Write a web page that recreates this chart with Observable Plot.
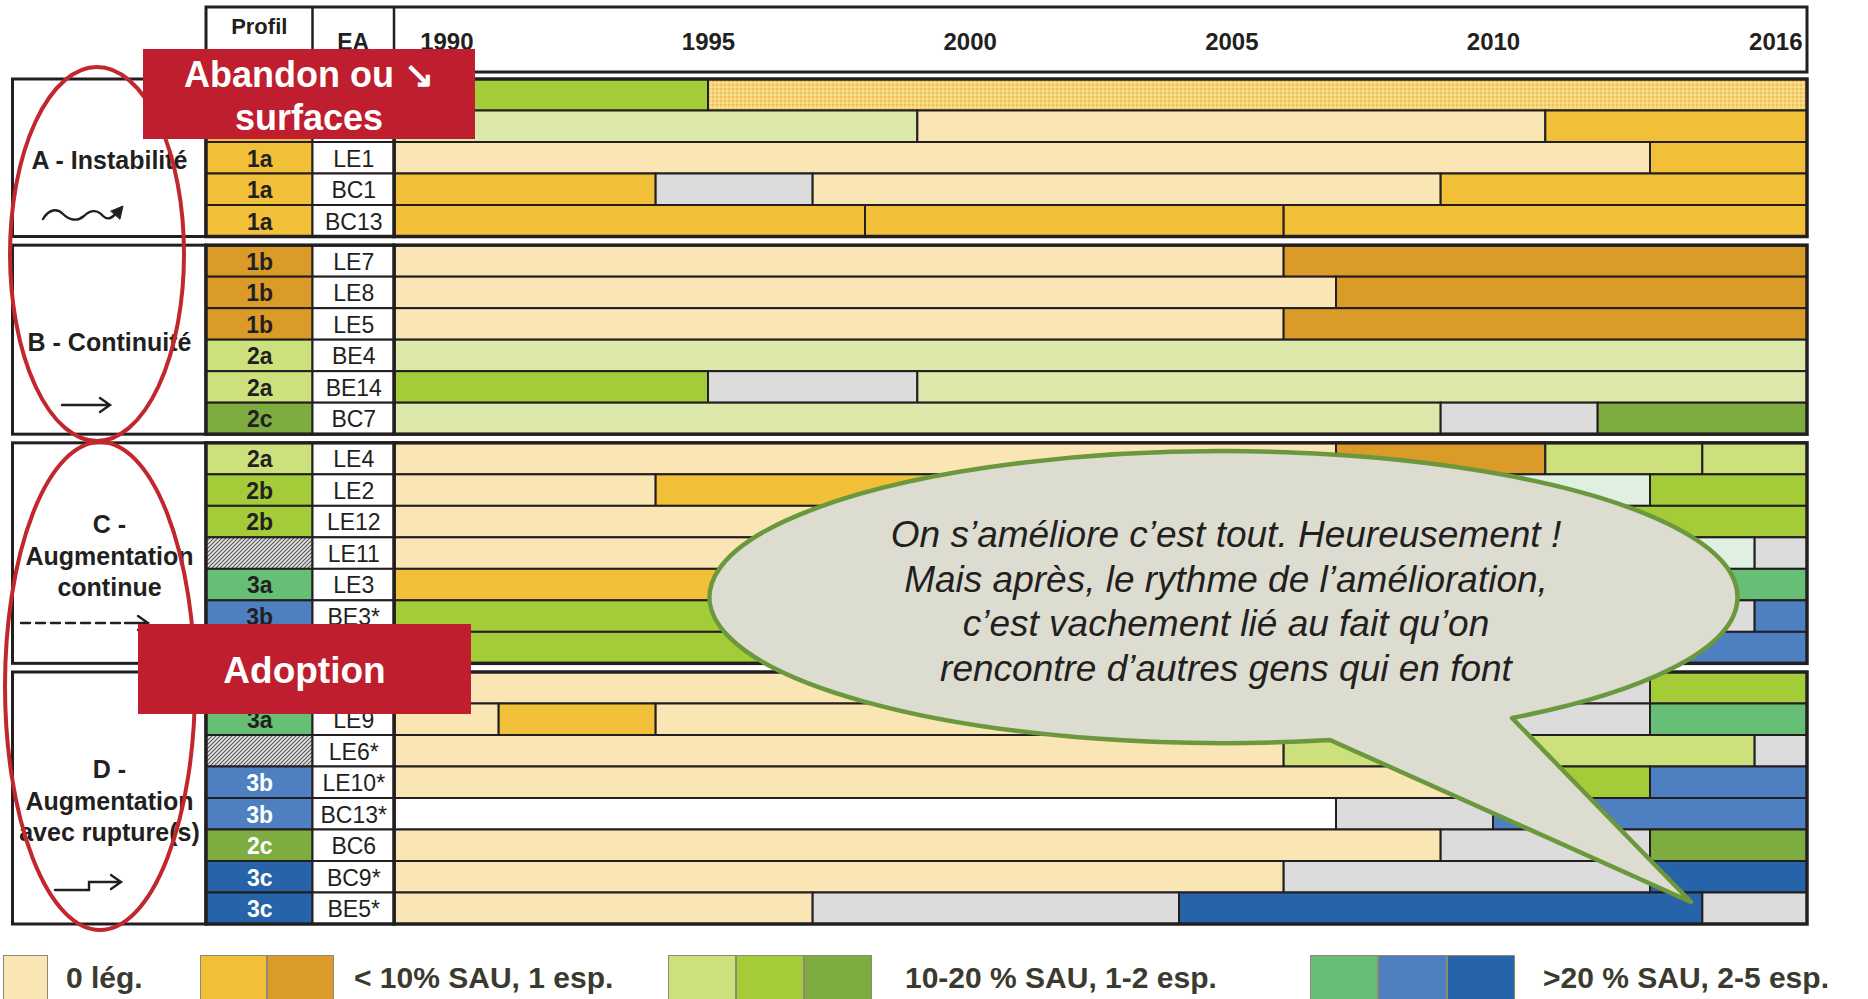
<!DOCTYPE html>
<html><head><meta charset="utf-8">
<script src="https://cdn.jsdelivr.net/npm/d3@7"></script>
<script src="https://cdn.jsdelivr.net/npm/@observablehq/plot@0.6"></script>
<style>
html,body{margin:0;padding:0;background:#fff;overflow:hidden;}
#root{position:relative;width:1868px;height:999px;font-family:"Liberation Sans",Arial,sans-serif;}
#root > svg{position:absolute;left:0;top:0;}
.sw{position:absolute;top:955px;height:50px;box-sizing:border-box;border:1px solid #8a8a76;}
.lt{position:absolute;top:958px;font:bold 30px "Liberation Sans",Arial,sans-serif;color:#3b3a2f;white-space:nowrap;line-height:40px;}
</style></head>
<body>
<svg width="0" height="0" style="position:absolute">
<defs>
<pattern id="pOrange" width="4" height="4" patternUnits="userSpaceOnUse">
<rect width="4" height="4" fill="#f7d57c"/>
<circle cx="1" cy="1" r="0.9" fill="#eeb636"/>
<circle cx="3" cy="3" r="0.8" fill="#fbe5ad"/>
</pattern>
<pattern id="pGray" width="4" height="4" patternUnits="userSpaceOnUse">
<rect width="4" height="4" fill="#e4e4e4"/>
<path d="M-1,1 l2,-2 M0,4 l4,-4 M3,5 l2,-2" stroke="#555" stroke-width="1.1"/>
</pattern>
</defs></svg>
<div id="root"></div>
<script>
// ---------------- DATA ----------------
const groupNames = ["A - Instabilité", "B - Continuité", "C -\nAugmentation\ncontinue", "D -\nAugmentation\navec rupture(s)"];
const groupSizes = [5, 6, 7, 8];
const rowProfil = ["1a","1a","1a","1a","1a",
                   "1b","1b","1b","2a","2a","2c",
                   "2a","2b","2b","hatch","3a","3b","3b",
                   "2b","3a","hatch","3b","3b","2c","3c","3c"];
// "" = label hidden under an annotation box in the source
const rowEA = ["","","LE1","BC1","BC13",
               "LE7","LE8","LE5","BE4","BE14","BC7",
               "LE4","LE2","LE12","LE11","LE3","BE3*","",
               "","LE9","LE6*","LE10*","BC13*","BC6","BC9*","BE5*"];
const rowBreaks = [
  [1989,1995,2016], [1989,1999,2011,2016], [1989,2013,2016], [1989,1994,1997,2009,2016], [1989,1998,2006,2016],
  [1989,2006,2016], [1989,2007,2016], [1989,2006,2016], [1989,2016], [1989,1995,1999,2016], [1989,2009,2012,2016],
  [1989,2007,2011,2014,2016], [1989,1994,2004,2013,2016], [1989,2008,2016], [1989,2008,2015,2016], [1989,2006,2016], [1989,2008,2015,2016], [1989,2009,2016],
  [1989,2009,2013,2016], [1989,1991,1994,2009,2013,2016], [1989,2006,2015,2016], [1989,2010,2013,2016], [1989,2007,2010,2016], [1989,2009,2013,2016], [1989,2006,2013,2016], [1989,1997,2004,2014,2016]
];
const rowStates = [
  ["2b","1a-"], ["2a-","0","1a"], ["0","1a"], ["1a","na","0","1a"], ["1a","1a","1a"],
  ["0","1b"], ["0","1b"], ["0","1b"], ["2a-"], ["2b","na","2a-"], ["2a-","na","2c"],
  ["0","1b","2a","2a"], ["0","1a","3a-","2b"], ["0","2b"], ["0","3a-","na"], ["1a","3a"], ["2b","na","3b"], ["2b","3b"],
  ["0","na","2b"], ["0","1a","0","na","3a"], ["0","2a","na"], ["0","2b","3b"], ["vide","na","3b"], ["0","na","2c"], ["0","na","3c"], ["0","na","3c","na"]
];
const years = [1990, 1995, 2000, 2005, 2010, 2016];
const categories = ["0","1a","1b","2a","2b","2c","3a","3b","3c","na","vide","2a-","3a-","1a-","hatch"];
const legendLabels = ["0 lég.", "< 10% SAU, 1 esp.", "10-20 % SAU, 1-2 esp.", ">20 % SAU, 2-5 esp."];
const legendCats = [["0"], ["1a","1b"], ["2a","2b","2c"], ["3a","3b","3c"]];
const headerProfil = "Profil";
const headerEA = "EA";
const boxAbandon = "Abandon ou ↘\nsurfaces";
const boxAdoption = "Adoption";
const bubbleLines = ["On s’améliore c’est tout. Heureusement !",
                     "Mais après, le rythme de l’amélioration,",
                     "c’est vachement lié au fait qu’on",
                     "rencontre d’autres gens qui en font"];

// ---------------- STYLE / LAYOUT ----------------
const catColors = ["#fae6b4","#f2bf38","#da9b28","#cce17c","#a3cc38","#7dac40","#66bf74","#4e80c1","#2763a8","#dcdcdc","#ffffff","#dde9aa","#dff0e2","url(#pOrange)","url(#pGray)"];
const INK = "#231f20";
const FONT = "Liberation Sans, Arial, sans-serif";
const W = 1868, H = 940;
const GAP = 0.275;
const COL = {label: [12.5, 206], profil: [206, 312.5], ea: [312.5, 394]};

const groupIndex = groupSizes.flatMap((n, g) => Array(n).fill(g));
const groupStarts = groupSizes.map((n, g) => d3.sum(groupSizes.slice(0, g)));
const rows = rowEA.map((ea, i) => ({i, ea, profil: rowProfil[i], g: groupIndex[i], top: i + GAP * groupIndex[i]}));
const groups = groupNames.map((name, g) => ({name, g, top: groupStarts[g] + GAP * g, bottom: groupStarts[g] + groupSizes[g] + GAP * g}));
const segments = rows.flatMap(r => rowStates[r.i].map((cat, k) => ({row: r.i, top: r.top, cat, start: rowBreaks[r.i][k], end: rowBreaks[r.i][k + 1]})));
const TOTAL = d3.sum(groupSizes) + GAP * (groupSizes.length - 1);
const yCfg = {domain: [0, TOTAL], range: [79, 924], axis: null};
const colorCfg = {type: "ordinal", domain: categories, range: catColors};
const xDomain = [1989, 2016];
const shown = d => d.ea !== "";
const whiteText = d => d.g === 3 && ["2c","3b","3c"].includes(d.profil);

// ---------------- TIMELINE PLOT ----------------
const timeline = Plot.plot({
  width: W, height: H, margin: 0,
  style: {background: "transparent", fontFamily: FONT, overflow: "visible"},
  x: {domain: xDomain, range: [394, 1807], axis: null},
  y: yCfg,
  color: colorCfg,
  marks: [
    Plot.rect(segments, {x1: "start", x2: "end", y1: "top", y2: d => d.top + 1, fill: "cat", stroke: INK, strokeWidth: 2}),
    Plot.rect(groups, {x1: () => xDomain[0], x2: () => xDomain[1], y1: "top", y2: "bottom", fill: "none", stroke: INK, strokeWidth: 3.5}),
    Plot.text(years.slice(0, -1), {x: d => d, frameAnchor: "top", dy: 32, text: d => String(d), fontWeight: "bold", fontSize: 24, fill: INK, fontFamily: FONT}),
    Plot.text(years.slice(-1), {x: d => d, frameAnchor: "top", dy: 32, dx: -5, textAnchor: "end", text: d => String(d), fontWeight: "bold", fontSize: 24, fill: INK, fontFamily: FONT})
  ]
});

// ---------------- LEFT TABLE + ANNOTATIONS ----------------
function header() {
  const g = d3.create("svg:g");
  g.append("rect").attr("x", COL.profil[0]).attr("y", 7).attr("width", 1807 - COL.profil[0]).attr("height", 65)
    .attr("fill", "none").attr("stroke", INK).attr("stroke-width", 3);
  [COL.ea[0], COL.ea[1]].forEach(x => g.append("line").attr("x1", x).attr("x2", x).attr("y1", 7).attr("y2", 72).attr("stroke", INK).attr("stroke-width", 2.5));
  g.append("text").attr("x", (COL.profil[0] + COL.profil[1]) / 2).attr("y", 34).attr("text-anchor", "middle").attr("font-weight", "bold")
    .attr("font-size", 22).attr("fill", INK).attr("font-family", FONT).text(headerProfil);
  g.append("text").attr("x", (COL.ea[0] + COL.ea[1]) / 2).attr("y", 50).attr("text-anchor", "middle").attr("font-weight", "bold")
    .attr("font-size", 23).attr("fill", INK).attr("font-family", FONT).text(headerEA);
  return g.node();
}
function symbols() {
  const g = d3.create("svg:g").attr("fill", "none").attr("stroke", INK).attr("stroke-width", 2.4).attr("stroke-linecap", "round");
  g.append("path").attr("d", "M43,219 C49,209 57,208 63,214 C69,220 77,222 84,216 C91,209 98,210 103,216 C107,220 112,219 116,213");
  g.append("path").attr("d", "M111,211 L123,206 L120,219 Z").attr("fill", INK).attr("stroke-width", 1);
  g.append("path").attr("d", "M62,405 H109 M100,398 L110,405 L100,412");
  g.append("path").attr("d", "M21,623 H125").attr("stroke-dasharray", "9,6");
  g.append("path").attr("d", "M125,623 H146 M138,616 L148,623 L138,630");
  g.append("path").attr("d", "M55,890 H89 V882 H120 M111,875 L121,882 L111,889");
  return g.node();
}
function annotations() {
  const g = d3.create("svg:g");
  g.append("ellipse").attr("cx", 97).attr("cy", 254).attr("rx", 87).attr("ry", 187)
    .attr("fill", "none").attr("stroke", "#c1272d").attr("stroke-width", 4);
  g.append("ellipse").attr("cx", 100).attr("cy", 686).attr("rx", 95).attr("ry", 244)
    .attr("fill", "none").attr("stroke", "#c1272d").attr("stroke-width", 4);
  const box = (x, y, w, h, text, ys, fs) => {
    g.append("rect").attr("x", x).attr("y", y).attr("width", w).attr("height", h).attr("fill", "#be1e2d");
    const t = g.append("text").attr("text-anchor", "middle").attr("font-weight", "bold").attr("font-size", fs)
      .attr("fill", "white").attr("font-family", FONT).attr("dominant-baseline", "central");
    text.split("\n").forEach((s, k) => t.append("tspan").attr("x", x + w / 2).attr("y", ys[k]).text(s));
  };
  box(143, 49, 332, 90, boxAbandon, [74, 117], 36);
  box(138, 624, 333, 90, boxAdoption, [670], 37);
  g.append("path").attr("d", "M1512,718 A514,146 0 1 0 1330,740 L1691,902 Z")
    .attr("fill", "#dcdcd0").attr("stroke", "#6b983d").attr("stroke-width", 4.5).attr("stroke-linejoin", "round");
  const bt = g.append("text").attr("text-anchor", "middle").attr("font-style", "italic").attr("font-size", 37)
    .attr("fill", INK).attr("font-family", FONT).attr("dominant-baseline", "central");
  bubbleLines.forEach((s, k) => bt.append("tspan").attr("x", 1226).attr("y", 534 + 44.7 * k).text(s));
  return g.node();
}

const table = Plot.plot({
  width: W, height: H, margin: 0,
  style: {background: "transparent", fontFamily: FONT, overflow: "visible"},
  x: {type: "identity", axis: null},
  y: yCfg,
  color: colorCfg,
  marks: [
    header,
    Plot.rect(groups, {x1: COL.label[0], x2: COL.label[1], y1: "top", y2: "bottom", fill: "white", stroke: INK, strokeWidth: 3}),
    Plot.text(groups, {x: 109, y: d => (d.top + d.bottom) / 2, dy: 1, text: "name", lineHeight: 1.26, fontWeight: "bold", fontSize: 25, fill: INK, fontFamily: FONT}),
    symbols,
    Plot.rect(rows, {x1: COL.profil[0], x2: COL.profil[1], y1: "top", y2: d => d.top + 1, fill: "profil", stroke: INK, strokeWidth: 2}),
    Plot.rect(rows, {x1: COL.ea[0], x2: COL.ea[1], y1: "top", y2: d => d.top + 1, fill: "white", stroke: INK, strokeWidth: 2}),
    Plot.rect(groups, {x1: COL.profil[0], x2: COL.ea[1], y1: "top", y2: "bottom", fill: "none", stroke: INK, strokeWidth: 3.5}),
    Plot.text(rows.filter(d => shown(d) && d.profil !== "hatch" && !whiteText(d)), {x: (COL.profil[0] + COL.profil[1]) / 2, y: d => d.top + 0.5, dy: 1, text: "profil", fontWeight: "bold", fontSize: 23, fill: INK, fontFamily: FONT}),
    Plot.text(rows.filter(d => shown(d) && whiteText(d)), {x: (COL.profil[0] + COL.profil[1]) / 2, y: d => d.top + 0.5, dy: 1, text: "profil", fontWeight: "bold", fontSize: 23, fill: "white", fontFamily: FONT}),
    Plot.text(rows.filter(shown), {x: (COL.ea[0] + COL.ea[1]) / 2, y: d => d.top + 0.5, dy: 1, text: "ea", fontSize: 23, fill: INK, fontFamily: FONT}),
    annotations
  ]
});

const root = document.getElementById("root");
root.append(timeline, table);

// ---------------- LEGEND ----------------
const legendPos = [{x: 3, w: 45, t: 66}, {x: 200, w: 67, t: 354}, {x: 668, w: 68, t: 905}, {x: 1310, w: 68.3, t: 1543}];
const colorOf = c => catColors[categories.indexOf(c)];
legendCats.forEach((cats, k) => {
  const p = legendPos[k];
  cats.forEach((c, j) => {
    const d = document.createElement("div");
    d.className = "sw";
    d.style.left = (p.x + j * p.w) + "px";
    d.style.width = p.w + "px";
    d.style.background = colorOf(c);
    root.append(d);
  });
  const t = document.createElement("div");
  t.className = "lt";
  t.style.left = p.t + "px";
  t.textContent = legendLabels[k];
  root.append(t);
});
</script>
</body></html>
